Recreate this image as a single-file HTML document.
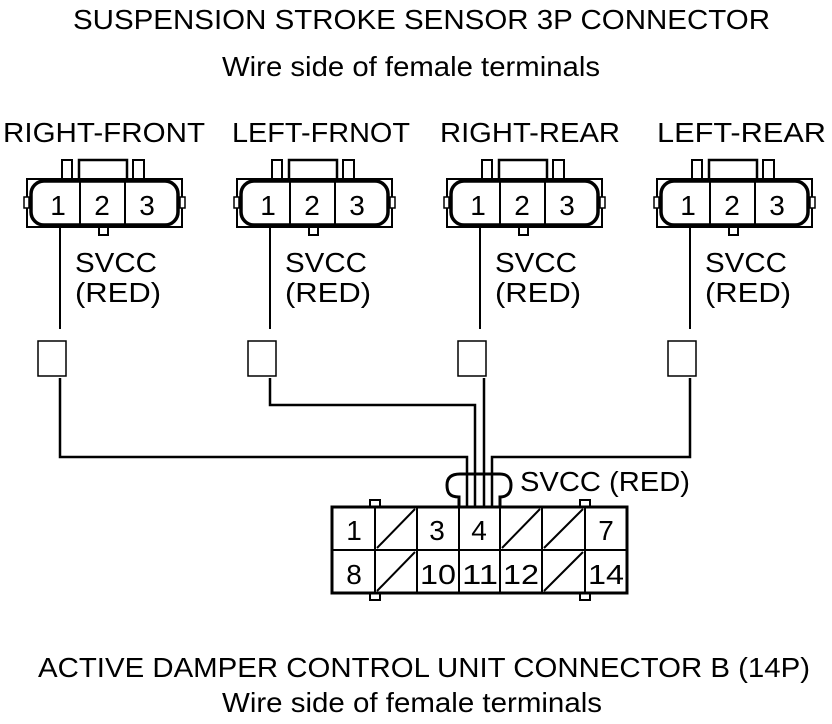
<!DOCTYPE html>
<html><head><meta charset="utf-8"><style>
html,body{margin:0;padding:0;background:#fff;}
svg{display:block;}
text{font-family:"Liberation Sans",Arial,sans-serif;fill:#000;}
</style></head><body>
<svg width="832" height="724" viewBox="0 0 832 724" xmlns="http://www.w3.org/2000/svg">
<defs>
<g id="c3">
  <rect x="27" y="179" width="155" height="48" fill="none" stroke="#000" stroke-width="2"/>
  <rect x="31" y="181" width="147" height="44" rx="13" fill="#fff" stroke="#000" stroke-width="3.5"/>
  <rect x="24" y="197" width="5" height="11" fill="#fff" stroke="#000" stroke-width="1.5"/>
  <rect x="180" y="197" width="5" height="11" fill="#fff" stroke="#000" stroke-width="1.5"/>
  <line x1="80" y1="180" x2="80" y2="226" stroke="#000" stroke-width="2"/>
  <line x1="125" y1="180" x2="125" y2="226" stroke="#000" stroke-width="2"/>
  <polyline points="79,180 79,160 127,160 127,180" fill="none" stroke="#000" stroke-width="2.5"/>
  <polyline points="62,180 62,160 72,160 72,180" fill="none" stroke="#000" stroke-width="2"/>
  <polyline points="133,180 133,160 144,160 144,180" fill="none" stroke="#000" stroke-width="2"/>
  <rect x="99" y="227" width="9" height="8" fill="#fff" stroke="#000" stroke-width="2"/>
  <text x="58" y="215" font-size="28" text-anchor="middle">1</text>
  <text x="102" y="215" font-size="28" text-anchor="middle">2</text>
  <text x="147" y="215" font-size="28" text-anchor="middle">3</text>
  <line x1="60" y1="227" x2="60" y2="329" stroke="#000" stroke-width="2"/>
  <rect x="38" y="341" width="28" height="35" fill="#fff" stroke="#000" stroke-width="1.5"/>
  <text x="75" y="272" font-size="28" textLength="82" lengthAdjust="spacingAndGlyphs">SVCC</text>
  <text x="75" y="302" font-size="28" textLength="86" lengthAdjust="spacingAndGlyphs">(RED)</text>
</g>
</defs>

<text x="73" y="29" font-size="28" textLength="697" lengthAdjust="spacingAndGlyphs">SUSPENSION STROKE SENSOR 3P CONNECTOR</text>
<text x="222" y="76" font-size="28" textLength="378" lengthAdjust="spacingAndGlyphs">Wire side of female terminals</text>
<text x="3" y="142" font-size="28" textLength="202" lengthAdjust="spacingAndGlyphs">RIGHT-FRONT</text>
<text x="232" y="142" font-size="28" textLength="178" lengthAdjust="spacingAndGlyphs">LEFT-FRNOT</text>
<text x="440" y="142" font-size="28" textLength="180" lengthAdjust="spacingAndGlyphs">RIGHT-REAR</text>
<text x="657" y="142" font-size="28" textLength="169" lengthAdjust="spacingAndGlyphs">LEFT-REAR</text>

<use href="#c3"/>
<use href="#c3" x="210"/>
<use href="#c3" x="420"/>
<use href="#c3" x="630"/>

<g fill="none" stroke="#000" stroke-width="2.5">
  <polyline points="60,378 60,457 467,457 467,507"/>
  <polyline points="270,378 270,405 475,405 475,507"/>
  <polyline points="484,378 484,507"/>
  <polyline points="690,378 690,457 492,457 492,507"/>
</g>

<path d="M459 507 V497 C449 497 447 492 447 485 C447 477 452 474 460 474 H500 C507 474 511 478 511 485 C511 492 508 497 500 497 V507" fill="none" stroke="#000" stroke-width="3"/>
<text x="520" y="491" font-size="28" textLength="170" lengthAdjust="spacingAndGlyphs">SVCC (RED)</text>

<g stroke="#000" fill="#fff" stroke-width="2">
  <rect x="370" y="500" width="10" height="8"/>
  <rect x="580" y="500" width="10" height="8"/>
  <rect x="370" y="592" width="10" height="8"/>
  <rect x="580" y="592" width="10" height="8"/>
</g>
<rect x="332" y="507" width="295" height="86" fill="#fff" stroke="#000" stroke-width="3"/>
<g stroke="#000" stroke-width="2">
  <line x1="332" y1="550" x2="627" y2="550"/>
  <line x1="375" y1="507" x2="375" y2="593"/>
  <line x1="417" y1="507" x2="417" y2="593"/>
  <line x1="459" y1="507" x2="459" y2="593"/>
  <line x1="500" y1="507" x2="500" y2="593"/>
  <line x1="542" y1="507" x2="542" y2="593"/>
  <line x1="585" y1="507" x2="585" y2="593"/>
  <line x1="377" y1="548" x2="415" y2="509"/>
  <line x1="502" y1="548" x2="540" y2="509"/>
  <line x1="544" y1="548" x2="583" y2="509"/>
  <line x1="377" y1="591" x2="415" y2="552"/>
  <line x1="544" y1="591" x2="583" y2="552"/>
</g>
<g font-size="28" text-anchor="middle">
  <text x="354" y="540">1</text>
  <text x="437" y="540">3</text>
  <text x="479" y="540">4</text>
  <text x="606" y="540">7</text>
  <text x="354" y="584">8</text>
  <text x="438" y="584" textLength="36" lengthAdjust="spacingAndGlyphs">10</text>
  <text x="480" y="584" textLength="36" lengthAdjust="spacingAndGlyphs">11</text>
  <text x="521" y="584" textLength="36" lengthAdjust="spacingAndGlyphs">12</text>
  <text x="606" y="584" textLength="36" lengthAdjust="spacingAndGlyphs">14</text>
</g>

<text x="38" y="677" font-size="28" textLength="772" lengthAdjust="spacingAndGlyphs">ACTIVE DAMPER CONTROL UNIT CONNECTOR B (14P)</text>
<text x="222" y="712" font-size="28" textLength="380" lengthAdjust="spacingAndGlyphs">Wire side of female terminals</text>
</svg>
</body></html>
